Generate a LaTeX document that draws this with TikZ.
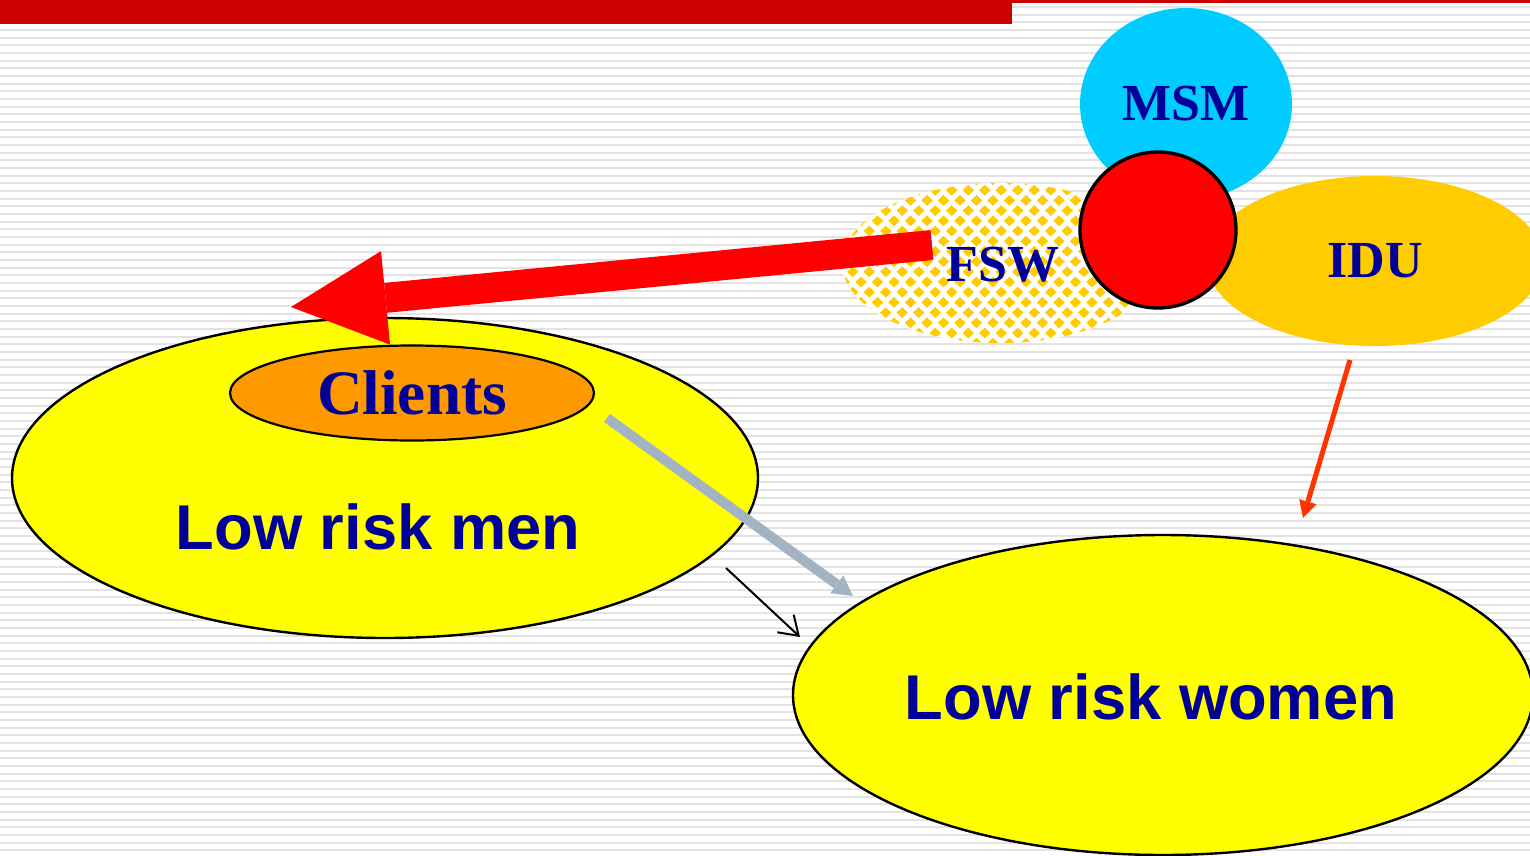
\documentclass[tikz,border=0pt]{standalone}
\usepackage{fontspec}
\setmainfont{Liberation Serif}
\setsansfont{Liberation Sans}
\usetikzlibrary{arrows.meta,shapes.geometric}
\definecolor{palNavy}{HTML}{000099}
\definecolor{palBar}{HTML}{CC0000}
\definecolor{palYellow}{HTML}{FFFF00}
\definecolor{palOrange}{HTML}{FF9900}
\definecolor{palSky}{HTML}{00CCFF}
\definecolor{palGold}{HTML}{FFCC00}
\definecolor{palSteel}{HTML}{A3B3C3}
\definecolor{palFlame}{HTML}{FF3300}

\begin{document}
\begin{tikzpicture}[
  x=0.1mm, y=-0.1mm,
  stripe/.style={draw=black!11, line width=0.22mm},
  blob/.style={ellipse, inner sep=0pt, text=palNavy},
  lowbox/.style={blob, draw=black, line width=0.24mm, fill=palYellow, minimum height=32mm},
  lowtext/.style={text=palNavy, font=\sffamily\bfseries\fontsize{18}{20}\selectfont},
  grouptext/.style={font=\bfseries\fontsize{14.8}{16}\selectfont},
  arrow/.style={-{Triangle[length=1.7mm, width=1.8mm, line width=0pt]}, line width=0.5mm},
  bigarrow/.style={-{Triangle[length=9.5mm, width=9.4mm, line width=0pt]}, line width=3mm, draw=red},
]
\useasboundingbox (0,0) rectangle (1530,856);
\clip (0,0) rectangle (1530,856);

% background
\foreach \i in {0,...,111}
  \draw[stripe] (0,7+7.667*\i) -- (1530,7+7.667*\i);
\fill[palBar] (0,0) rectangle (1012,24);
\fill[palBar] (1012,0) rectangle (1530,3);

% low risk groups
\node[lowbox, minimum width=74.6mm] (men) at (385,478) {};
\node[lowtext] (menlabel) at (378,527) {Low risk men};
\node[blob, draw=black, line width=0.22mm, fill=palOrange, minimum width=36.4mm, minimum height=9.5mm,
  font=\bfseries\fontsize{18}{20}\selectfont] (clients) at (412,393) {Clients};
\node[lowbox, minimum width=74mm] (women) at (1163,695) {};
\node[lowtext] (womenlabel) at (1151,697) {Low risk women};

% core groups
\begin{scope}
  \clip (1000,263) ellipse [x radius=15.8mm, y radius=8mm];
  \fill[white] (1000,263) ellipse [x radius=15.8mm, y radius=8mm];
  \foreach \r in {0,...,16}
    \foreach \c in {0,...,21}{
      \pgfmathsetmacro\cx{828+16.5*\c+8.25*mod(\r,2)}
      \fill[palGold] (\cx,180+10.2*\r) +(-5.7,0) -- +(0,-5.4) -- +(5.7,0) -- +(0,5.4) -- cycle;
    }
\end{scope}
\node[blob, grouptext, minimum width=31.6mm, minimum height=16mm] (fsw) at (1003,265) {FSW};
\node[blob, grouptext, fill=palSky, minimum width=21.2mm, minimum height=19.2mm] (msm) at (1186,104) {MSM};
\node[blob, grouptext, fill=palGold, minimum width=33.6mm, minimum height=17mm] (idu) at (1375,261) {IDU};
\node[circle, draw=black, line width=0.33mm, fill=red, minimum size=15.6mm, inner sep=0pt] (core) at (1158,230) {};

% flows
\coordinate (fswtail) at (932,245);
\coordinate (clientshead) at (291,307);
\coordinate (clientstail) at (607,418);
\coordinate (womenhead) at (853,596);
\coordinate (mentail) at (726,568);
\coordinate (womenside) at (800,637);
\coordinate (idutail) at (1350,360);
\coordinate (womentop) at (1303,518);

\draw[bigarrow] (fswtail) -- (clientshead);
\draw[-{Triangle[length=2mm, width=2.2mm, line width=0pt]}, line width=1mm, draw=palSteel] (clientstail) -- (womenhead);
\draw[-{Straight Barb[length=1.8mm, width=2.4mm]}, line width=0.2mm] (mentail) -- (womenside);
\draw[arrow, draw=palFlame] (idutail) -- (womentop);
\end{tikzpicture}
\end{document}
